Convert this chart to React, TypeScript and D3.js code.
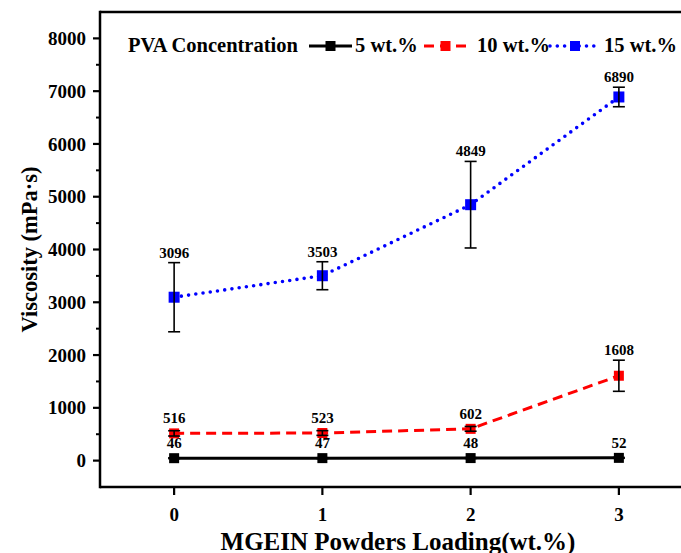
import React from "react";
import * as d3 from "d3";

const loadings = [0, 1, 2, 3];
const pva5 = [46, 47, 48, 52];
const pva5Err = [8, 8, 8, 8];
const pva10 = [516, 523, 602, 1608];
const pva10Err = [50, 45, 45, 295];
const pva15 = [3096, 3503, 4849, 6890];
const pva15Err = [655, 265, 820, 185];
const yTicks = [0, 1000, 2000, 3000, 4000, 5000, 6000, 7000, 8000];
const yMinorTicks = [500, 1500, 2500, 3500, 4500, 5500, 6500, 7500];
const seriesNames = ["5 wt.%", "10 wt.%", "15 wt.%"];

const W = 681;
const H = 553;
const FONT = "'Liberation Serif', 'Times New Roman', serif";

export default function App() {
  const x = d3.scaleLinear().domain([-0.5, 3.5]).range([100, 693]);
  const y = d3.scaleLinear().domain([-500, 8500]).range([487, 12]);

  const series = [
    { name: seriesNames[0], vals: pva5, err: pva5Err, color: "#000000", dash: "", cap: "butt", sw: 3, ms: 10 },
    { name: seriesNames[1], vals: pva10, err: pva10Err, color: "#ff0000", dash: "10,6", cap: "butt", sw: 3, ms: 10 },
    { name: seriesNames[2], vals: pva15, err: pva15Err, color: "#0000ff", dash: "0,7.3", cap: "round", sw: 3.6, ms: 11 },
  ];

  const line = d3
    .line<number>()
    .x((_, i) => x(loadings[i]))
    .y((d) => y(d))
    .curve(d3.curveLinear);

  const legendItems = [
    { s: series[0], x0: 309, x1: 352, tx: 355 },
    { s: series[1], x0: 424, x1: 467, tx: 477 },
    { s: series[2], x0: 550, x1: 600, tx: 604 },
  ];
  const legendY = 46;

  return (
    <svg
      width={W}
      height={H}
      style={{ position: "absolute", left: 0, top: 0, background: "#fff" }}
      fontFamily={FONT}
    >
      <rect x={0} y={0} width={W} height={H} fill="#fff" />
      {/* frame */}
      <line x1={x(-0.5)} x2={W + 5} y1={y(8500)} y2={y(8500)} stroke="#000" strokeWidth={2.5} />
      <line x1={x(-0.5)} x2={W + 5} y1={y(-500)} y2={y(-500)} stroke="#000" strokeWidth={2.5} />
      <line x1={x(-0.5)} x2={x(-0.5)} y1={y(8500) - 1.25} y2={y(-500) + 1.25} stroke="#000" strokeWidth={2.5} />

      {/* y ticks */}
      {yTicks.map((t) => (
        <g key={"yt" + t}>
          <line x1={x(-0.5) - 7} x2={x(-0.5)} y1={y(t)} y2={y(t)} stroke="#000" strokeWidth={2.2} />
          <text x={x(-0.5) - 14} y={y(t)} dy="0.35em" textAnchor="end" fontSize={19} fontWeight="bold">
            {t}
          </text>
        </g>
      ))}
      {yMinorTicks.map((t) => (
        <line key={"ym" + t} x1={x(-0.5) - 4} x2={x(-0.5)} y1={y(t)} y2={y(t)} stroke="#000" strokeWidth={2} />
      ))}

      {/* x ticks */}
      {loadings.map((t) => (
        <g key={"xt" + t}>
          <line x1={x(t)} x2={x(t)} y1={y(-500)} y2={y(-500) + 8} stroke="#000" strokeWidth={2.2} />
          <text x={x(t)} y={521} textAnchor="middle" fontSize={19} fontWeight="bold">
            {t}
          </text>
        </g>
      ))}

      {/* axis titles */}
      <text
        transform={`translate(37, ${y(4000)}) rotate(-90)`}
        textAnchor="middle"
        fontSize={22.5}
        fontWeight="bold"
      >
        Viscosity (mPa·s)
      </text>
      <text x={398} y={550} textAnchor="middle" fontSize={25} fontWeight="bold">
        MGEIN Powders Loading(wt.%)
      </text>

      {/* series lines */}
      {series.map((s) => (
        <path
          key={"l" + s.name}
          d={line(s.vals) || ""}
          fill="none"
          stroke={s.color}
          strokeWidth={s.sw}
          strokeDasharray={s.dash}
          strokeLinecap={s.cap as any}
        />
      ))}

      {/* error bars, markers, labels */}
      {series.map((s) =>
        s.vals.map((v, i) => {
          const cx = x(loadings[i]);
          const top = y(v + s.err[i]);
          const bot = y(v - s.err[i]);
          return (
            <g key={s.name + i}>
              <rect
                x={cx - s.ms / 2}
                y={y(v) - s.ms / 2}
                width={s.ms}
                height={s.ms}
                fill={s.color}
              />
              <line x1={cx} x2={cx} y1={top} y2={bot} stroke="#000" strokeWidth={1.6} />
              <line x1={cx - 6} x2={cx + 6} y1={top} y2={top} stroke="#000" strokeWidth={1.6} />
              <line x1={cx - 6} x2={cx + 6} y1={bot} y2={bot} stroke="#000" strokeWidth={1.6} />
              <text
                x={cx}
                y={Math.min(top, y(v) - s.ms / 2) - 5}
                textAnchor="middle"
                fontSize={15}
                fontWeight="bold"
              >
                {v}
              </text>
            </g>
          );
        })
      )}

      {/* legend */}
      <text x={128} y={52} fontSize={20.5} fontWeight="bold">
        PVA Concentration
      </text>
      {legendItems.map((it) => (
        <g key={"lg" + it.s.name}>
          <line
            x1={it.x0}
            x2={it.x1}
            y1={legendY}
            y2={legendY}
            stroke={it.s.color}
            strokeWidth={it.s.sw}
            strokeDasharray={it.s.dash}
            strokeLinecap={it.s.cap as any}
          />
          <rect
            x={(it.x0 + it.x1) / 2 - 5}
            y={legendY - 5}
            width={10}
            height={10}
            fill={it.s.color}
          />
          <text x={it.tx} y={52} fontSize={20.5} fontWeight="bold">
            {it.s.name}
          </text>
        </g>
      ))}
    </svg>
  );
}
